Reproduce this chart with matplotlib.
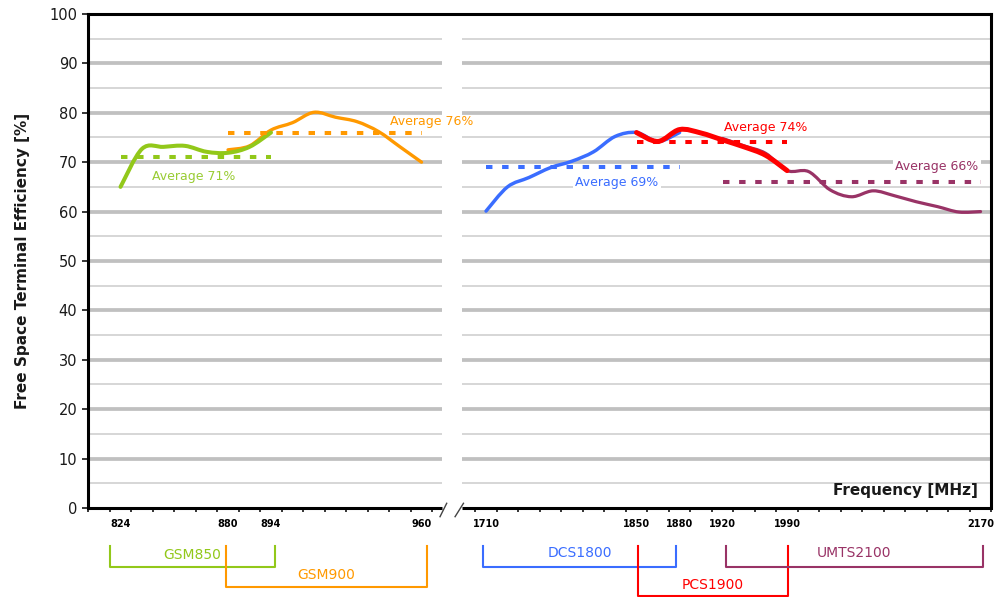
import numpy as np
import matplotlib
matplotlib.use("Agg")
import matplotlib.pyplot as plt
from matplotlib.path import Path
from matplotlib.patches import PathPatch

# category axis: 42 slots, left block GSM, right block DCS/PCS/UMTS
n_cats = 42
tick_pos = [1, 6, 8, 15, 18, 25, 27, 29, 32, 41]
tick_labels = ["824", "880", "894", "960", "1710", "1850", "1880", "1920", "1990", "2170"]

# efficiency per category slot (first slot index, values)
gsm850_start = 1
gsm850 = [65.0, 72.7, 73.1, 73.3, 72.1, 71.9, 73.1, 76.0]
gsm900_start = 6
gsm900 = [72.5, 73.3, 76.5, 78.0, 80.1, 79.1, 78.2, 76.2, 73.1, 70.0]
dcs1800_start = 18
dcs1800 = [60.1, 65.0, 66.9, 68.9, 70.2, 72.1, 75.2, 76.0, 74.2, 76.0]
pcs1900_start = 25
pcs1900 = [76.0, 74.2, 76.6, 75.9, 74.5, 73.1, 71.4, 68.3]
umts2100_start = 29
umts2100 = [74.8, 73.3, 71.8, 68.3, 68.1, 64.4, 63.0, 64.2, 63.2, 62.0, 61.0, 59.9, 60.0]

averages = [71, 76, 69, 74, 66]

c_green = "#92c81a"
c_orange = "#ff9900"
c_blue = "#3a6dff"
c_red = "#ff0000"
c_purple = "#993366"


def smooth_path(x, y):
    # Excel-like smoothed line: cubic bezier through the points
    pts = np.column_stack([x, y]).astype(float)
    n = len(pts)
    verts = [pts[0]]
    codes = [Path.MOVETO]
    for i in range(n - 1):
        p0 = pts[max(i - 1, 0)]
        p1 = pts[i]
        p2 = pts[i + 1]
        p3 = pts[min(i + 2, n - 1)]
        verts += [p1 + (p2 - p0) / 6, p2 - (p3 - p1) / 6, p2]
        codes += [Path.CURVE4] * 3
    return Path(verts, codes)


fig = plt.figure(figsize=(9.94, 5.97), dpi=100)
ax = fig.add_axes([0.0888, 0.1491, 0.9085, 0.8275])
ax.set_xlim(0, n_cats)
ax.set_ylim(0, 100)

gap0, gap1 = 16.43, 17.37

# gridlines with the break
for yv in range(5, 100, 5):
    major = yv % 10 == 0
    kw = dict(color="#c0c0c0" if major else "#d0d0d0", lw=2.7 if major else 1.2, zorder=1)
    ax.hlines(yv, 0, gap0, **kw)
    ax.hlines(yv, gap1, n_cats, **kw)

series = [
    (gsm900, gsm900_start, c_orange, 2.4, 3),
    (gsm850, gsm850_start, c_green, 2.9, 4),
    (dcs1800, dcs1800_start, c_blue, 2.5, 3),
    (umts2100, umts2100_start, c_purple, 2.3, 3),
    (pcs1900, pcs1900_start, c_red, 3.6, 5),
]
for vals, start, col, lw, z in series:
    xs = np.arange(start, start + len(vals)) + 0.5
    ax.add_patch(PathPatch(smooth_path(xs, vals), fill=False, edgecolor=col, lw=lw,
                           capstyle="round", joinstyle="round", zorder=z))

# average dotted lines
avg_spans = [(gsm850_start, len(gsm850), c_green), (gsm900_start, len(gsm900), c_orange),
             (dcs1800_start, len(dcs1800), c_blue), (pcs1900_start, len(pcs1900), c_red),
             (umts2100_start, len(umts2100), c_purple)]
for avg, (start, n, col) in zip(averages, avg_spans):
    ax.plot([start + 0.5, start + n - 0.5], [avg, avg], color=col, lw=2.9,
            ls=(0, (1.6, 2.4)), solid_capstyle="butt", dash_capstyle="butt", zorder=6)

tfont = dict(fontsize=9, zorder=7)
ax.text(4.89, 67.2, "Average 71%", color="#99cc33", ha="center", va="center", **tfont)
ax.text(15.99, 78.3, "Average 76%", color=c_orange, ha="center", va="center", **tfont)
ax.text(24.59, 65.8, "Average 69%", color=c_blue, ha="center", va="center",
        bbox=dict(fc="white", ec="none", pad=1.5), **tfont)
ax.text(29.57, 77.1, "Average 74%", color=c_red, ha="left", va="center", **tfont)
ax.text(39.47, 69.1, "Average 66%", color=c_purple, ha="center", va="center",
        bbox=dict(fc="white", ec="none", pad=1.5), **tfont)

ax.text(0.985, 0.035, "Frequency [MHz]", transform=ax.transAxes, ha="right", va="center",
        fontsize=11, fontweight="bold", color="#1a1a1a")

# frame
for s in ["left", "top", "right"]:
    ax.spines[s].set_linewidth(2.2)
    ax.spines[s].set_color("black")
ax.spines["bottom"].set_visible(False)
ax.plot([0, gap0], [0, 0], color="black", lw=2.2, solid_capstyle="butt", clip_on=False, zorder=8)
ax.plot([gap1, n_cats], [0, 0], color="black", lw=2.2, solid_capstyle="butt", clip_on=False, zorder=8)
ax.plot([16.36, 16.67], [-1.76, 0.95], color="#444444", lw=1.0, clip_on=False)
ax.plot([17.06, 17.45], [-1.76, 0.95], color="#444444", lw=1.0, clip_on=False)

# ticks
ax.set_yticks(range(0, 101, 10))
ax.tick_params(axis="y", direction="out", length=4.3, width=1.1, pad=3.5, labelsize=10.5,
               labelcolor="#1a1a1a")
ax.set_xticks([k for k in range(n_cats + 1) if k != 17])
ax.set_xticklabels([])
ax.tick_params(axis="x", which="major", direction="out", length=3, width=1.1)
ax.set_xticks([p + 0.5 for p in tick_pos], minor=True)
ax.set_xticklabels(tick_labels, minor=True, fontsize=7, fontweight="bold")
ax.tick_params(axis="x", which="minor", length=0, pad=8)

ax.set_ylabel("Free Space Terminal Efficiency [%]", fontsize=11, fontweight="bold",
              color="#1a1a1a")
ax.yaxis.set_label_coords(-0.0646, 0.5)

# band brackets below the axis
bands = [("GSM850", 1.0, 8.68, -11.94, -9.5, c_green),
         ("GSM900", 6.39, 15.74, -15.93, -13.56, c_orange),
         ("DCS1800", 18.34, 27.35, -11.94, -9.1, c_blue),
         ("PCS1900", 25.57, 32.54, -17.8, -15.6, c_red),
         ("UMTS2100", 29.67, 41.59, -11.94, -9.1, c_purple)]
for name, x0, x1, ybot, ytxt, col in bands:
    ax.plot([x0, x0, x1, x1], [-7.69, ybot, ybot, -7.69], color=col, lw=1.5, clip_on=False)
    ax.text((x0 + x1) / 2, ytxt, name, color=col, ha="center", va="center", fontsize=10,
            clip_on=False)

fig.savefig("out.png", dpi=100)
